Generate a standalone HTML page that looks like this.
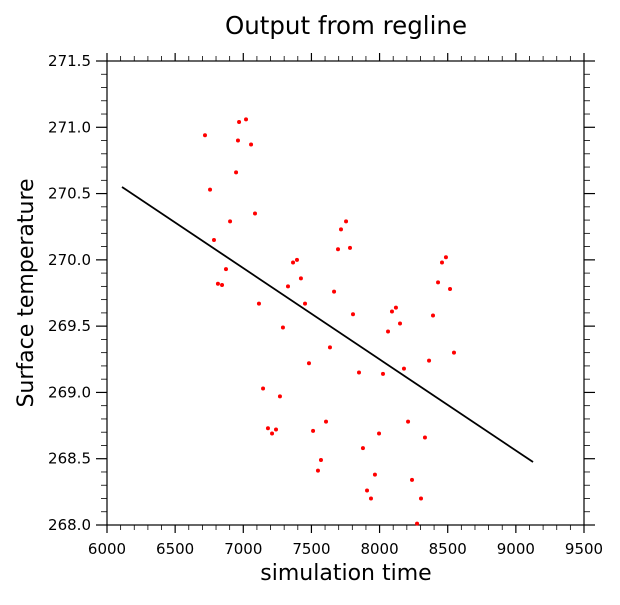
<!DOCTYPE html>
<html><head><meta charset="utf-8"><style>
body{margin:0;background:#fff}
svg text{font-family:"DejaVu Sans","Liberation Sans",sans-serif}
</style></head><body>
<svg width="620" height="600" xmlns="http://www.w3.org/2000/svg">
<text x="346" y="34" font-size="24.5" text-anchor="middle">Output from regline</text>
<text x="346" y="580" font-size="22" text-anchor="middle">simulation time</text>
<text transform="translate(33,293) rotate(-90)" font-size="22" text-anchor="middle">Surface temperature</text>
<g id="axes"></g>
<g id="marks"></g>
</svg>
<script>
const xs=[6719,6969,7020,6961,7057,6947,6756,6903,7086,6785,6873,6814,6844,7115,7291,7365,7394,7423,7328,7453,7482,7145,7269,7181,7211,7240,7512,7548,7570,7607,7636,7666,7695,7717,7754,7783,7805,7849,7878,7908,7937,7966,7996,8025,8062,8091,8120,8150,8179,8209,8238,8275,8304,8333,8363,8392,8429,8458,8487,8517,8546];
const ys=[270.94,271.04,271.06,270.90,270.87,270.66,270.53,270.29,270.35,270.15,269.93,269.82,269.81,269.67,269.49,269.98,270.00,269.86,269.80,269.67,269.22,269.03,268.97,268.73,268.69,268.72,268.71,268.41,268.49,268.78,269.34,269.76,270.08,270.23,270.29,270.09,269.59,269.15,268.58,268.26,268.20,268.38,268.69,269.14,269.46,269.61,269.64,269.52,269.18,268.78,268.34,268.01,268.20,268.66,269.24,269.58,269.83,269.98,270.02,269.78,269.30];
const lineX=[6110,9126];
const lineY=[270.55,268.475];
const xTicks=[6000,6500,7000,7500,8000,8500,9000,9500];
const yTicks=[268.0,268.5,269.0,269.5,270.0,270.5,271.0,271.5];
const X0=107,X1=584,Y0=525,Y1=61;
const sx=v=>X0+(v-6000)/3500*(X1-X0);
const sy=v=>Y0-(v-268)/3.5*(Y0-Y1);
const NS="http://www.w3.org/2000/svg";
const ax=document.getElementById('axes'),mk=document.getElementById('marks');
function el(t,a,p){const e=document.createElementNS(NS,t);for(const k in a)e.setAttribute(k,a[k]);p.appendChild(e);return e;}
const fr=el('rect',{x:X0,y:Y1,width:X1-X0,height:Y0-Y1,fill:'none',stroke:'#000','stroke-width':1.2},ax);


for(let v=6000;v<=9500;v+=100){const x=sx(v);const maj=(v%500===0);const L=maj?8:5;
 el('line',{x1:x,y1:Y0,x2:x,y2:Y0+L,stroke:'#000','stroke-width':maj?1.2:0.8},ax);
 el('line',{x1:x,y1:Y1,x2:x,y2:Y1-L,stroke:'#000','stroke-width':maj?1.2:0.8},ax);}
for(let i=0;i<=35;i++){const v=268+i*0.1;const y=sy(v);const maj=(i%5===0);const L=maj?11:6;
 el('line',{x1:X0,y1:y,x2:X0-L,y2:y,stroke:'#000','stroke-width':maj?1.2:0.8},ax);
 el('line',{x1:X1,y1:y,x2:X1+L,y2:y,stroke:'#000','stroke-width':maj?1.2:0.8},ax);}
xTicks.forEach(v=>{const t=el('text',{x:sx(v),y:554,'font-size':15,'text-anchor':'middle'},ax);t.textContent=v;
 
 });
yTicks.forEach(v=>{const t=el('text',{x:91,y:sy(v)+5,'font-size':15,'text-anchor':'end'},ax);t.textContent=v.toFixed(1);
 
 });
const ln=el('line',{x1:sx(lineX[0]),y1:sy(lineY[0]),x2:sx(lineX[1]),y2:sy(lineY[1]),stroke:'#000','stroke-width':1.8},mk);


xs.forEach((v,i)=>{const c=el('circle',{cx:sx(v),cy:sy(ys[i]),r:2,fill:'#f00'},mk);
 
 });
</script>
</body></html>
